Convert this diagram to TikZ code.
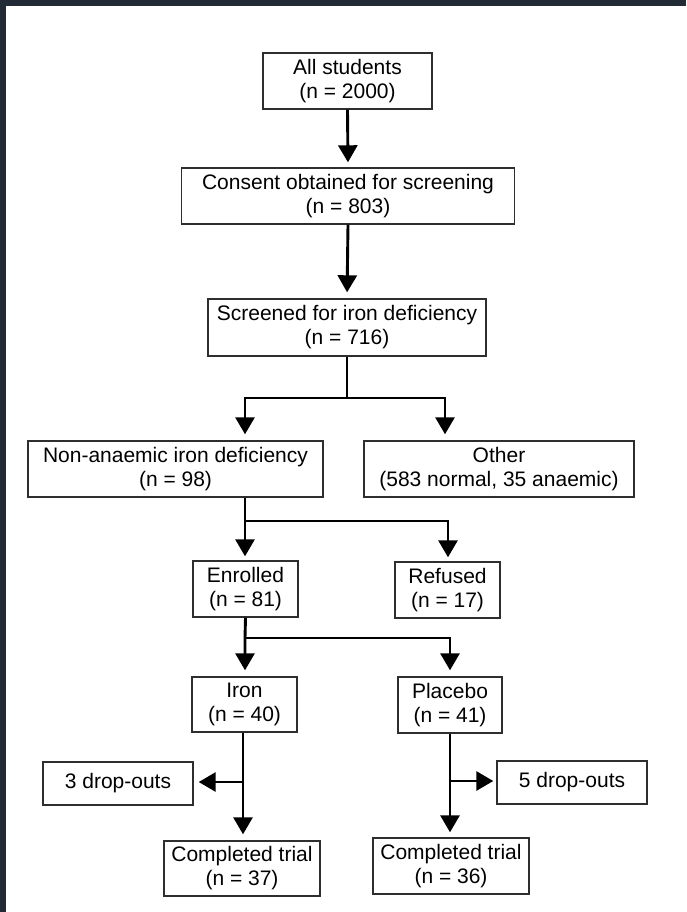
\documentclass[tikz,border=0pt]{standalone}
\usepackage{fontspec}
\setmainfont{Liberation Sans}
\usetikzlibrary{arrows.meta}
\definecolor{framedark}{HTML}{222A35}
\definecolor{boxline}{HTML}{2E2E2E}

\begin{document}
\begin{tikzpicture}[x=1pt,y=-1pt,
  box/.style={draw=boxline, line width=1.4pt, fill=white, inner sep=0pt,
    align=center, font=\fontsize{21}{24}\selectfont},
  flow/.style={line width=2.9pt, -{Triangle[width=19pt,length=17pt]},
    shorten >=6pt},
  link/.style={line width=2.9pt}]
% page and dark frame strips
\useasboundingbox (0,0) rectangle (686,912);
\fill[white] (0,0) rectangle (686,912);
\fill[framedark] (0,0) rectangle (686,6);
\fill[framedark] (0,0) rectangle (6,912);

% boxes
\node[box, minimum width=169pt, minimum height=56pt] (all) at (347.5,81) {All students\\(n = 2000)};
\node[box, minimum width=333pt, minimum height=56pt] (consent) at (348,196) {Consent obtained for screening\\(n = 803)};
\node[box, minimum width=278pt, minimum height=57pt] (screened) at (347,327.5) {Screened for iron deficiency\\(n = 716)};
\node[box, minimum width=295pt, minimum height=56pt] (nonan) at (175.5,469) {Non-anaemic iron deficiency\\(n = 98)};
\node[box, minimum width=270pt, minimum height=56pt] (other) at (499,469) {Other\\(583 normal, 35 anaemic)};
\node[box, minimum width=105pt, minimum height=56pt] (enrolled) at (245.5,589) {Enrolled\\(n = 81)};
\node[box, minimum width=105pt, minimum height=56pt] (refused) at (447.5,590) {Refused\\(n = 17)};
\node[box, minimum width=105pt, minimum height=55pt] (iron) at (244.5,704.5) {Iron\\(n = 40)};
\node[box, minimum width=104pt, minimum height=56pt] (placebo) at (450,705) {Placebo\\(n = 41)};
\node[box, minimum width=150pt, minimum height=43pt] (drop3) at (118,783.5) {3 drop-outs};
\node[box, minimum width=150pt, minimum height=43pt] (drop5) at (572,782.5) {5 drop-outs};
\node[box, minimum width=156pt, minimum height=55pt] (comp37) at (242,868.5) {Completed trial\\(n = 37)};
\node[box, minimum width=156pt, minimum height=56pt] (comp36) at (451,866) {Completed trial\\(n = 36)};

% junction points of the branching connectors
\coordinate (j1) at (347,398);
\coordinate (j1l) at (245,398);
\coordinate (j1r) at (445,398);
\coordinate (j2) at (245,521);
\coordinate (j2r) at (448,521);
\coordinate (j3) at (245,638);
\coordinate (j3r) at (450,638);
\coordinate (j4) at (243,782);
\coordinate (j5) at (450,781);

% connectors
\draw[flow, shorten >=5pt] (all.south) -- (consent.north);
\draw[flow] (consent.south) -- (screened.north);

\draw[flow] (screened.south) -- (j1) -- (j1l) -- (j1l |- nonan.north);
\draw[flow] (j1) -- (j1r) -- (j1r |- other.north);

\draw[flow, shorten >=4pt] (j2 |- nonan.south) -- (j2) -- (j2 |- enrolled.north);
\draw[flow, shorten >=4pt] (j2) -- (j2r) -- (j2r |- refused.north);

\draw[flow] (enrolled.south) -- (j3) -- (j3 |- iron.north);
\draw[flow] (j3) -- (j3r) -- (j3r |- placebo.north);

\draw[flow] (j4 |- iron.south) -- (j4 |- comp37.north);
\draw[flow, shorten >=5pt] (j4) -- (drop3.east |- j4);

\draw[flow, shorten >=5pt] (placebo.south) -- (j5 |- comp36.north);
\draw[flow, shorten >=3pt] (j5) -- (drop5.west |- j5);
\end{tikzpicture}
\end{document}
